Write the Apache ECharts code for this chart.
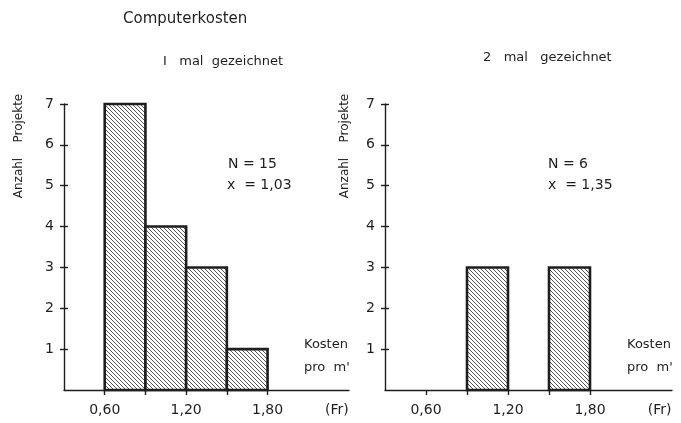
<!DOCTYPE html>
<html>
<head>
<meta charset="utf-8">
<script src="https://cdn.jsdelivr.net/npm/echarts@6/dist/echarts.min.js"></script>
<style>html,body{margin:0;padding:0;background:#fff}#c{width:681px;height:423px}</style>
</head>
<body>
<div id="c"></div>
<script>
// Data
const binStart1 = [0.60, 0.90, 1.20, 1.50];
const binEnd1   = [0.90, 1.20, 1.50, 1.80];
const counts1   = [7, 4, 3, 1];
const binStart2 = [0.90, 1.50];
const binEnd2   = [1.20, 1.80];
const counts2   = [3, 3];
const xLabelValues = [0.60, 1.20, 1.80];
const xTickValues = [0.60, 0.90, 1.20, 1.50, 1.80];
const yTickValues = [1, 2, 3, 4, 5, 6, 7];
const unitLabel = '(Fr)';
const unitPos = 2.31;

const FONT = 'DejaVu Sans';
const INK = '#1e1e1e';

// hatch pattern
const s = 4;
const cv = document.createElement('canvas');
cv.width = s; cv.height = s;
const g = cv.getContext('2d');
g.fillStyle = '#fff'; g.fillRect(0,0,s,s);
g.strokeStyle = '#555'; g.lineWidth = 1;
g.beginPath();
g.moveTo(0,0); g.lineTo(s,s);
g.moveTo(-1,s-1); g.lineTo(1,s+1);
g.moveTo(s-1,-1); g.lineTo(s+1,1);
g.stroke();
const hatch = {image: cv, repeat: 'repeat'};

function rows(a,b,c){ return a.map((v,i)=>[v,b[i],c[i]]); }

function renderBin(params, api){
  const p0 = api.coord([api.value(0), api.value(2)]);
  const p1 = api.coord([api.value(1), 0]);
  return {type:'rect', shape:{x:p0[0], y:p0[1], width:p1[0]-p0[0], height:p1[1]-p0[1]},
    style:{fill:hatch, stroke:INK, lineWidth:2.6}};
}

function xAxisFor(gi){
  return {type:'value', gridIndex:gi, min:0.30, max:2.40,
    axisLine:{show:true, onZero:false, lineStyle:{color:INK, width:1.4}},
    axisTick:{show:true, customValues:xTickValues, length:5, lineStyle:{color:INK, width:1.4}},
    axisLabel:{customValues:xLabelValues.concat([unitPos]), margin:13, fontSize:14, fontFamily:FONT, color:INK,
      formatter:v=> v>2 ? unitLabel : Number(v).toFixed(2).replace('.',',')},
    splitLine:{show:false}};
}
function yAxesFor(gi){
  return [
    {type:'value', gridIndex:gi, min:0, max:7,
      axisLine:{show:true, lineStyle:{color:INK, width:1.4}},
      axisTick:{show:true, customValues:yTickValues, length:4, lineStyle:{color:INK, width:1.4}},
      axisLabel:{customValues:yTickValues, margin:10, fontSize:14, fontFamily:FONT, color:INK},
      splitLine:{show:false}},
    {type:'value', gridIndex:gi, min:0, max:7, position:'left',
      axisLine:{show:false},
      axisTick:{show:true, inside:true, customValues:yTickValues, length:4, lineStyle:{color:INK, width:1.4}},
      axisLabel:{show:false}, splitLine:{show:false}}
  ];
}

function txt(x,y,text,size,extra){
  return Object.assign({type:'text', x:x, y:y, style:{text:text, fontSize:size||12, fontFamily:FONT, fill:INK, align:'left', verticalAlign:'middle'}}, extra||{});
}

const chart = echarts.init(document.getElementById('c'), null, {renderer:'canvas'});
chart.setOption({
  animation:false,
  grid:[
    {left:64, top:104, width:285, height:286},
    {left:385, top:104, width:287, height:286}
  ],
  xAxis:[xAxisFor(0), xAxisFor(1)],
  yAxis:yAxesFor(0).concat(yAxesFor(1)),
  series:[
    {type:'custom', xAxisIndex:0, yAxisIndex:0, renderItem:renderBin, encode:{x:[0,1], y:2},
      data:rows(binStart1, binEnd1, counts1)},
    {type:'custom', xAxisIndex:1, yAxisIndex:2, renderItem:renderBin, encode:{x:[0,1], y:2},
      data:rows(binStart2, binEnd2, counts2)}
  ],
  graphic:[
    txt(123, 19, 'Computerkosten', 15),
    txt(163, 62, 'I   mal  gezeichnet', 13),
    txt(483, 58, '2   mal   gezeichnet', 13),
    txt(228, 164, 'N = 15', 14),
    txt(227, 185, 'x  = 1,03', 14),
    txt(548, 164, 'N = 6', 14),
    txt(548, 185, 'x  = 1,35', 14),
    txt(304, 345, 'Kosten', 13),
    txt(304, 368, 'pro  m\'', 13),
    txt(627, 345, 'Kosten', 13),
    txt(627, 368, 'pro  m\'', 13),
    {type:'text', x:19, y:146, rotation:Math.PI/2, style:{text:'Anzahl    Projekte', fontSize:12, fontFamily:FONT, fill:INK, align:'center', verticalAlign:'middle'}},
    {type:'text', x:345, y:146, rotation:Math.PI/2, style:{text:'Anzahl    Projekte', fontSize:12, fontFamily:FONT, fill:INK, align:'center', verticalAlign:'middle'}}
  ]
});
</script>
</body>
</html>
